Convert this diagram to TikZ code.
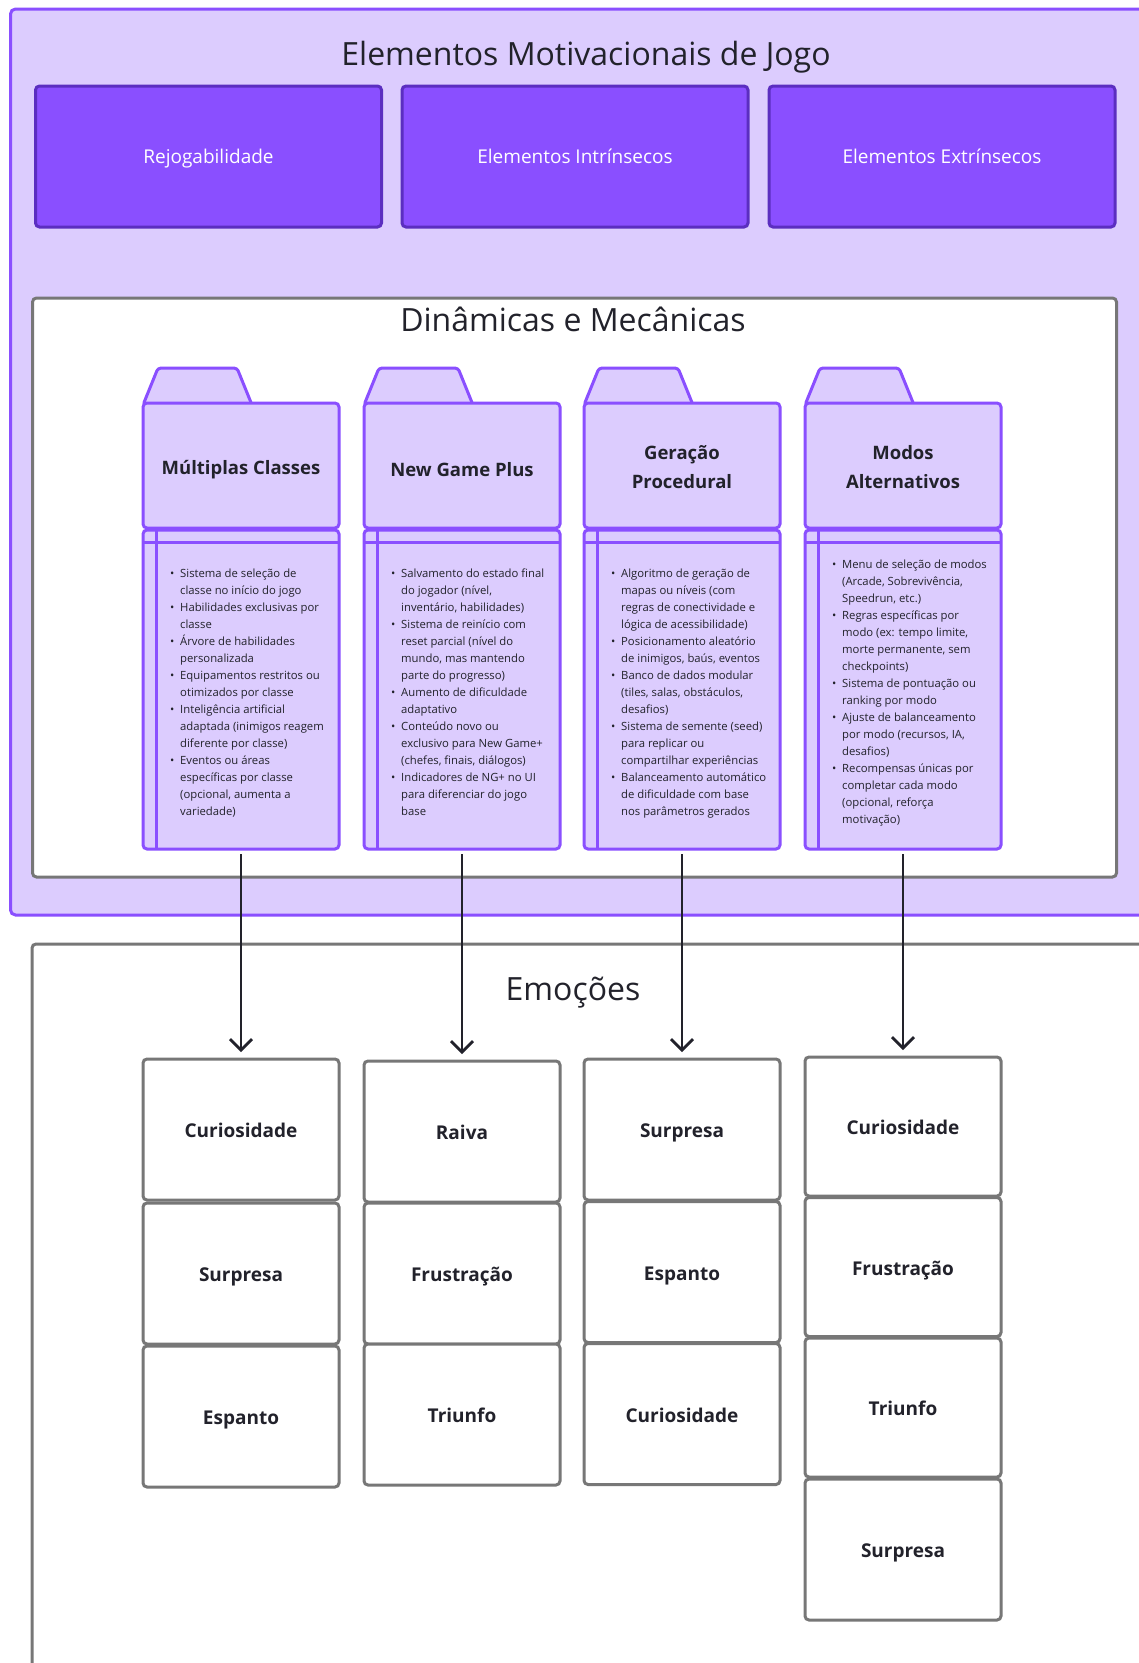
\documentclass[tikz,border=0pt]{standalone}
\usepackage{fontspec}
\setmainfont{Open Sans}
\usetikzlibrary{arrows.meta}
\definecolor{lav}{HTML}{DCCCFE}
\definecolor{purp}{HTML}{8A4FFF}
\definecolor{dpurp}{HTML}{5B2EC0}
\definecolor{gry}{HTML}{777777}
\definecolor{ink}{HTML}{22222B}
\newcommand\bul{\makebox[10pt][l]{\textbullet}}
\newcommand\listfont{\fontsize{11.3}{17}\selectfont}
\tikzset{
  bigtitle/.style={font=\fontsize{32}{38}\selectfont, text=ink, inner sep=0pt},
  topbox/.style={draw=dpurp, fill=purp, line width=3pt, rounded corners=4pt, minimum width=346pt, minimum height=141pt, inner sep=0pt, outer sep=0pt, text=white, font=\fontsize{19}{23}\selectfont, text height=13.6pt, text depth=0pt},
  graybox/.style={draw=gry, line width=3pt, rounded corners=4pt, inner sep=0pt, outer sep=0pt},
  fhead/.style={draw=purp, fill=lav, line width=3pt, rounded corners=4pt, minimum width=196pt, inner sep=0pt, outer sep=0pt},
  flabel/.style={inner sep=0pt, text=ink, align=center, font=\bfseries\fontsize{18.5}{29}\selectfont},
  ftab/.style={draw=purp, fill=lav, line width=3pt, rounded corners=3pt, line join=round},
  fline/.style={draw=purp, line width=3pt},
  ftext/.style={anchor=west, inner sep=0pt, text=ink, font=\listfont},
  ebox/.style={draw=gry, fill=white, line width=3pt, rounded corners=4pt, minimum width=196pt, minimum height=141pt, inner sep=0pt, outer sep=0pt, text=ink, font=\bfseries\fontsize{19}{23}\selectfont, text height=16pt, text depth=0pt},
  arr/.style={draw=ink, line width=2.8pt, -{Straight Barb[length=11pt,width=22pt]}, shorten <=5pt, shorten >=7pt}
}
\newcommand\mkfolder[6]{%
  \draw[ftab] (#2,405) -- ({#2+15},368) -- ({#2+94},368) -- ({#2+109},405) -- cycle;
  \node[fhead, minimum height=125pt] (#1h) at ({#2+98},465.5) {};
  \node[flabel] (#1n) at ({#2+98},#4) {#3};
  \node[fhead, minimum height=319pt] (#1l) at ({#2+98},689.5) {};
  \draw[fline] ({#2+13},530) -- ({#2+13},849);
  \draw[fline] (#2,542) -- ({#2+196},542);
  \node[ftext] (#1t) at ({#2+27},#5) {\listfont\begin{tabular}{@{}l@{}l@{}}#6\end{tabular}};
}
\begin{document}
\begin{tikzpicture}[x=1pt,y=-1pt]
\useasboundingbox (0,0) rectangle (1139,1663);
\fill[white] (0,0) rectangle (1139,1663);
% outer purple container
\node[draw=purp, fill=lav, line width=3pt, rounded corners=5pt, minimum width=1160pt, minimum height=906pt, inner sep=0pt, outer sep=0pt] (outer) at (590.5,462) {};
\node[bigtitle] (t1) at (586,57) {Elementos Motivacionais de Jogo};
\node[topbox] (b1) at (208.5,156.5) {Rejogabilidade};
\node[topbox] (b2) at (575,156.5) {Elementos Intrínsecos};
\node[topbox] (b3) at (942,156.5) {Elementos Extrínsecos};
% inner white container
\node[graybox, fill=white, minimum width=1084pt, minimum height=579pt] (dyn) at (574.5,587.5) {};
\node[bigtitle] (t2) at (573,319) {Dinâmicas e Mecânicas};
% folders
\mkfolder{fa}{143}{Múltiplas Classes}{469.5}{693}{%
\bul & Sistema de seleção de\\
 & classe no início do jogo\\
\bul & Habilidades exclusivas por\\
 & classe\\
\bul & Árvore de habilidades\\
 & personalizada\\
\bul & Equipamentos restritos ou\\
 & otimizados por classe\\
\bul & Inteligência artificial\\
 & adaptada (inimigos reagem\\
 & diferente por classe)\\
\bul & Eventos ou áreas\\
 & específicas por classe\\
 & (opcional, aumenta a\\
 & variedade)}
\mkfolder{fb}{364}{New Game Plus}{469.5}{693}{%
\bul & Salvamento do estado final\\
 & do jogador (nível,\\
 & inventário, habilidades)\\
\bul & Sistema de reinício com\\
 & reset parcial (nível do\\
 & mundo, mas mantendo\\
 & parte do progresso)\\
\bul & Aumento de dificuldade\\
 & adaptativo\\
\bul & Conteúdo novo ou\\
 & exclusivo para New Game+\\
 & (chefes, finais, diálogos)\\
\bul & Indicadores de NG+ no UI\\
 & para diferenciar do jogo\\
 & base}
\mkfolder{fc}{584}{Geração\\Procedural}{467.5}{693}{%
\bul & Algoritmo de geração de\\
 & mapas ou níveis (com\\
 & regras de conectividade e\\
 & lógica de acessibilidade)\\
\bul & Posicionamento aleatório\\
 & de inimigos, baús, eventos\\
\bul & Banco de dados modular\\
 & (tiles, salas, obstáculos,\\
 & desafios)\\
\bul & Sistema de semente (seed)\\
 & para replicar ou\\
 & compartilhar experiências\\
\bul & Balanceamento automático\\
 & de dificuldade com base\\
 & nos parâmetros gerados}
\mkfolder{fd}{805}{Modos\\Alternativos}{467.5}{693}{%
\bul & Menu de seleção de modos\\
 & (Arcade, Sobrevivência,\\
 & Speedrun, etc.)\\
\bul & Regras específicas por\\
 & modo (ex: tempo limite,\\
 & morte permanente, sem\\
 & checkpoints)\\
\bul & Sistema de pontuação ou\\
 & ranking por modo\\
\bul & Ajuste de balanceamento\\
 & por modo (recursos, IA,\\
 & desafios)\\
\bul & Recompensas únicas por\\
 & completar cada modo\\
 & (opcional, reforça\\
 & motivação)}
% emotions container
\node[graybox, fill=white, minimum width=1160pt, minimum height=800pt] (emo) at (612,1344) {};
\node[bigtitle] (t3) at (573,993) {Emoções};
% column 1
\node[ebox] (ea1) at (241,1129.5) {Curiosidade};
\node[ebox] (ea2) at (241,1273.5) {Surpresa};
\node[ebox] (ea3) at (241,1416.5) {Espanto};
% column 2
\node[ebox] (eb1) at (462,1131.5) {Raiva};
\node[ebox] (eb2) at (462,1273.5) {Frustração};
\node[ebox] (eb3) at (462,1414.5) {Triunfo};
% column 3
\node[ebox] (ec1) at (682,1129.5) {Surpresa};
\node[ebox] (ec2) at (682,1272) {Espanto};
\node[ebox] (ec3) at (682,1414) {Curiosidade};
% column 4
\node[ebox, minimum height=139pt] (ed1) at (903,1126.5) {Curiosidade};
\node[ebox, minimum height=139pt] (ed2) at (903,1267) {Frustração};
\node[ebox, minimum height=139pt] (ed3) at (903,1407.5) {Triunfo};
\node[ebox] (ed4) at (903,1549.5) {Surpresa};
% arrows
\draw[arr] (fal) -- (ea1);
\draw[arr] (fbl) -- (eb1);
\draw[arr] (fcl) -- (ec1);
\draw[arr] (fdl) -- (ed1);
\end{tikzpicture}
\end{document}
